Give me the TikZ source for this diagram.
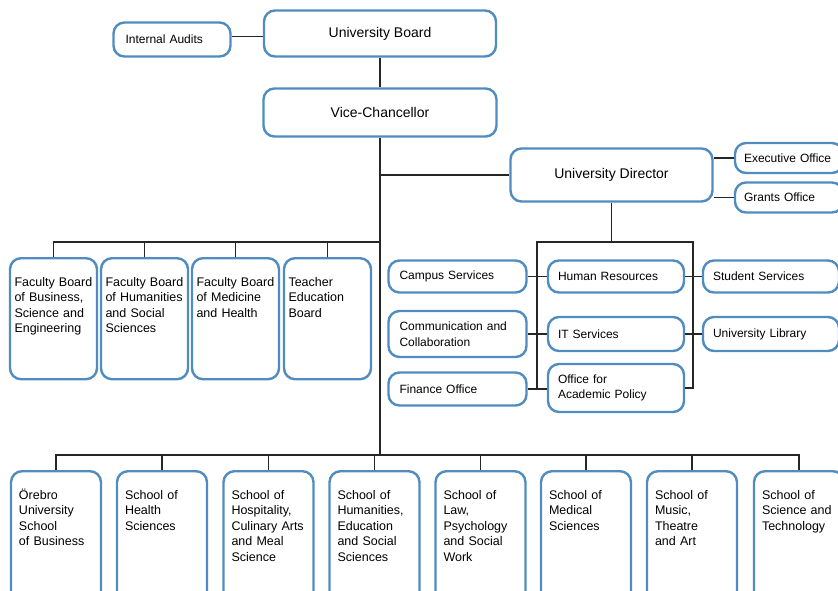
\documentclass[tikz,border=0pt]{standalone}
\usepackage{fontspec}
\setmainfont{Liberation Sans}
\usepackage{xcolor}
\usepackage{tikz}
\usetikzlibrary{positioning}
\usetikzlibrary{calc}
\definecolor{boxblue}{RGB}{80,140,192}

\begin{document}
\begin{tikzpicture}[x=1pt,y=-1pt,
    unit/.style={draw=boxblue,line width=2.4pt,rounded corners=11pt,fill=white,inner sep=0pt,align=left},
    head/.style={unit,align=center,font=\fontsize{14}{17}\selectfont},
    office/.style={unit,inner xsep=11pt,text width=116pt,minimum height=34pt,font=\fontsize{12}{15.5}\selectfont},
    faculty/.style={unit,anchor=north,inner xsep=4.5pt,text width=78pt,text height=28pt,text depth=93pt,font=\fontsize{12.5}{15.5}\selectfont},
    school/.style={unit,anchor=north,inner xsep=8pt,text width=74pt,text height=28pt,text depth=120pt,font=\fontsize{12.5}{15.5}\selectfont},
    link/.style={draw=black!85,line width=1.2pt}]
    \useasboundingbox (0,0) rectangle (838,590);
    \clip (0,0) rectangle (838,590);

    % top of the chart
    \node [head,minimum width=232pt,minimum height=46pt] (ub) at (380,33.5) {University Board};
    \node [office,inner xsep=12pt,text width=93pt,minimum height=34pt] (ia) at (172,39.5) {Internal Audits};
    \node [head,minimum width=233pt,minimum height=48pt] (vc) at (380,112.5) {Vice-Chancellor};
    \node [head,minimum width=202pt,minimum height=53pt] (ud) at (611.5,175) {University Director};
    \node [office,inner xsep=9pt,text width=90pt,minimum height=30pt] (eo) at (789,158) {Executive Office};
    \node [office,inner xsep=9pt,text width=90pt,minimum height=30pt] (go) at (789,197.5) {Grants Office};

    % university director's offices
    \node [office,minimum height=32pt] (cs) at (457.5,276.5) {Campus Services};
    \node [office,minimum height=46pt] (cc) at (457.5,334) {Communication and\\Collaboration};
    \node [office,minimum height=33pt] (fo) at (457.5,389) {Finance Office};
    \node [office,inner xsep=10pt,minimum height=32pt] (hr) at (616,276.5) {Human Resources};
    \node [office,inner xsep=10pt,minimum height=34pt] (it) at (616,334) {IT Services};
    \node [office,inner xsep=10pt,minimum height=48pt] (oap) at (616,388) {Office for\\Academic Policy};
    \node [office,inner xsep=10pt,minimum height=32pt] (ss) at (771,276.5) {Student Services};
    \node [office,inner xsep=10pt,minimum height=34pt] (ul) at (771,334) {University Library};

    % faculty boards
    \node [faculty] (fb1) at (53.5,257) {Faculty Board\\of Business,\\Science and\\Engineering};
    \node [faculty] (fb2) at (144.5,257) {Faculty Board\\of Humanities\\and Social\\Sciences};
    \node [faculty] (fb3) at (235.5,257) {Faculty Board\\of Medicine\\and Health};
    \node [faculty] (fb4) at (327.5,257) {Teacher\\Education\\Board};

    % schools
    \node [school] (s1) at (56,470) {Örebro\\University\\School\\of Business};
    \node [school] (s2) at (162,470) {School of\\Health\\Sciences};
    \node [school] (s3) at (268.5,470) {School of\\Hospitality,\\Culinary Arts\\and Meal\\Science};
    \node [school] (s4) at (374.5,470) {School of\\Humanities,\\Education\\and Social\\Sciences};
    \node [school] (s5) at (480.5,470) {School of\\Law,\\Psychology\\and Social\\Work};
    \node [school] (s6) at (586,470) {School of\\Medical\\Sciences};
    \node [school] (s7) at (692,470) {School of\\Music,\\Theatre\\and Art};
    \node [school] (s8) at (799,470) {School of\\Science and\\Technology};

    \coordinate (fbus) at (380,242);
    \coordinate (sbus) at (380,455);
    \coordinate (lbus) at (537,242);
    \coordinate (rbus) at (693,242);

    % connectors
    \draw [link] ([yshift=3pt]ia.east) -- ([yshift=3pt]ia.east -| ub.west);
    \draw [link] (ub.south) -- (vc.north);
    \draw [link] (vc.south) -- (sbus);
    \draw [link] (vc.south |- ud.west) -- (ud.west);
    \draw [link] (eo.west) -- (eo.west -| ud.east);
    \draw [link] (go.west) -- (go.west -| ud.east);
    \draw [link] (ud.south) -- (ud.south |- lbus);
    \draw [link] (lbus |- fo.east) -- (lbus) -- (rbus) -- (rbus |- oap.east) -- (oap.east);
    \draw [link] (cs.east) -- (hr.west);
    \draw [link] (cc.east) -- (it.west);
    \draw [link] (fo.east) -- (fo.east -| oap.west);
    \draw [link] (hr.east) -- (ss.west);
    \draw [link] (it.east) -- (ul.west);
    \draw [link] (fb1.north) |- (fbus);
    \foreach \n in {2,3,4}
        \draw [link] (fb\n.north) -- (fb\n.north |- fbus);
    \draw [link] (s1.north) |- (sbus) -| (s8.north);
    \foreach \n in {2,...,7}
        \draw [link] (s\n.north) -- (s\n.north |- sbus);
\end{tikzpicture}
\end{document}
